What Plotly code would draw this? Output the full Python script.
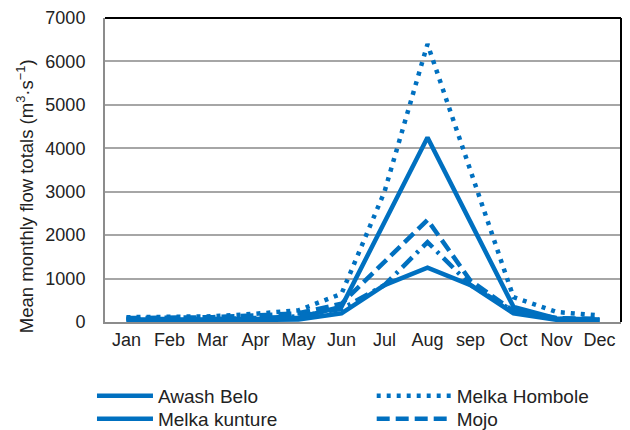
import plotly.graph_objects as go

months = ["Jan", "Feb", "Mar", "Apr", "May", "Jun", "Jul", "Aug", "sep", "Oct", "Nov", "Dec"]

awash_belo = [60, 50, 60, 70, 100, 350, 2300, 4250, 2300, 350, 80, 60]
melka_hombole = [110, 110, 130, 190, 270, 650, 3000, 6400, 3500, 570, 230, 150]
melka_kunture = [40, 35, 40, 45, 60, 200, 850, 1250, 850, 200, 50, 40]
mojo = [90, 90, 110, 150, 200, 420, 1400, 2350, 950, 250, 90, 70]
unlabelled = [70, 60, 70, 90, 130, 300, 850, 1840, 850, 250, 70, 50]

series_names = ["Awash Belo", "Melka Hombole", "Melka kunture", "Mojo"]
y_ticks = [0, 1000, 2000, 3000, 4000, 5000, 6000, 7000]
y_title = "Mean monthly flow totals (m<sup>3</sup>·s<sup>−1</sup>)"

BLUE = "#0070C0"
FONT = "Liberation Sans, Arial, sans-serif"

fig = go.Figure()
fig.add_trace(go.Scatter(x=months, y=awash_belo, name=series_names[0], mode="lines",
                         legend="legend", line=dict(color=BLUE, width=4.5)))
fig.add_trace(go.Scatter(x=months, y=melka_hombole, name=series_names[1], mode="lines",
                         legend="legend2", line=dict(color=BLUE, width=4.5, dash="4px,6px")))
fig.add_trace(go.Scatter(x=months, y=melka_kunture, name=series_names[2], mode="lines",
                         legend="legend3", line=dict(color=BLUE, width=4.5)))
fig.add_trace(go.Scatter(x=months, y=mojo, name=series_names[3], mode="lines",
                         legend="legend4", line=dict(color=BLUE, width=4.5, dash="13px,6px")))
fig.add_trace(go.Scatter(x=months, y=unlabelled, name="", mode="lines", showlegend=False,
                         line=dict(color=BLUE, width=4.5, dash="14px,6px,3px,6px")))

legend_common = dict(orientation="v", xref="container", yref="container",
                     xanchor="left", yanchor="top",
                     font=dict(size=19, family=FONT, color="#222222"),
                     bgcolor="rgba(0,0,0,0)", tracegroupgap=0)

fig.update_layout(
    width=630, height=430,
    margin=dict(l=105, r=9, t=18, b=108, autoexpand=False),
    paper_bgcolor="white", plot_bgcolor="white",
    font=dict(family=FONT, size=18, color="#222222"),
    showlegend=True,
    legend=dict(x=0.146, y=0.1233, itemwidth=56, **legend_common),
    legend2=dict(x=0.590, y=0.1233, itemwidth=75, **legend_common),
    legend3=dict(x=0.146, y=0.0698, itemwidth=56, **legend_common),
    legend4=dict(x=0.590, y=0.0698, itemwidth=75, **legend_common),
    xaxis=dict(type="category", range=[-0.5, 11.5], showgrid=False,
               showline=True, linecolor="#8c8c8c", linewidth=2,
               ticks="", tickfont=dict(size=18), zeroline=False),
    yaxis=dict(range=[0, 7000], tickvals=y_ticks, showgrid=True,
               gridcolor="#a6a6a6", gridwidth=2,
               showline=True, linecolor="#8c8c8c", linewidth=2,
               ticks="", ticklabelstandoff=14, tickfont=dict(size=18),
               zeroline=False),
)

fig.add_annotation(text=y_title, textangle=-90, xref="paper", yref="paper",
                   x=-0.155, y=0.414, xanchor="center", yanchor="middle",
                   showarrow=False, font=dict(size=18.5, family=FONT, color="#222222"))

fig.add_shape(type="line", xref="paper", yref="paper", x0=0, x1=1, y0=1, y1=1,
              line=dict(color="black", width=2))
fig.add_shape(type="line", xref="paper", yref="paper", x0=1, x1=1, y0=0, y1=1,
              line=dict(color="black", width=2))

fig.write_html("out.html", config={"displayModeBar": False},
               post_script="document.body.style.margin='0px';")
